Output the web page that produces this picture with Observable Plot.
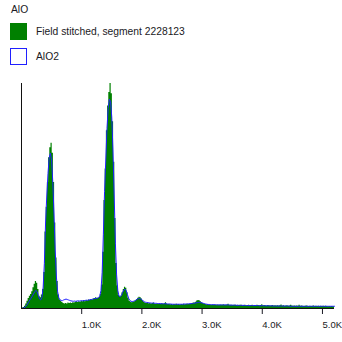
<!DOCTYPE html>
<html>
<head>
<meta charset="utf-8">
<script src="https://cdn.jsdelivr.net/npm/d3@7"></script>
<script src="https://cdn.jsdelivr.net/npm/@observablehq/plot@0.6"></script>
<style>
  html, body { margin: 0; padding: 0; background: #fff; }
  body { width: 342px; height: 342px; overflow: hidden; font-family: "Liberation Sans", Arial, sans-serif; color: #1a1a24; }
  #legend { position: relative; height: 70px; font-size: 10.3px; }
  #legend .t { position: absolute; left: 11px; top: 4px; }
  #legend .sw { position: absolute; left: 10px; width: 17px; height: 17px; box-sizing: border-box; }
  #legend .lab { position: absolute; left: 36px; }
</style>
</head>
<body>
<div id="legend"></div>
<div id="chart"></div>
<script>
const title = "AlO";
const seriesNames = ["Field stitched, segment 2228123", "AlO2"];
const seriesColors = ["#008000", "#2020ff"];
const xTicks = [1, 2, 3, 4, 5];
const energyStep = 0.02; // keV per channel
// Field stitched, segment 2228123 (counts per channel, 0.00 .. 5.20 keV)
const fieldCounts = [
  0, 2, 5, 10, 20, 32, 45, 55, 62, 75,
  92, 108, 120, 112, 85, 55, 48, 60, 85, 160,
  340, 450, 560, 670, 715, 735, 690, 560, 380, 225,
  120, 60, 38, 32, 27, 22, 20, 22, 20, 24,
  22, 25, 22, 26, 24, 28, 30, 27, 30, 28,
  32, 30, 34, 30, 36, 33, 38, 36, 40, 38,
  42, 45, 48, 44, 46, 50, 62, 105, 250, 480,
  620, 790, 900, 960, 1000, 955, 830, 650, 400, 200,
  100, 58, 52, 56, 70, 85, 94, 90, 70, 46,
  32, 28, 26, 28, 30, 34, 40, 46, 50, 48,
  42, 34, 28, 24, 22, 24, 21, 22, 20, 22,
  24, 20, 18, 21, 19, 20, 18, 22, 19, 21,
  26, 20, 18, 19, 17, 18, 16, 18, 17, 19,
  17, 18, 16, 18, 17, 19, 17, 18, 20, 18,
  19, 20, 22, 25, 24, 28, 33, 36, 34, 30,
  26, 22, 20, 18, 17, 18, 16, 17, 15, 16,
  15, 16, 14, 16, 15, 14, 16, 15, 17, 15,
  14, 16, 19, 15, 14, 15, 13, 14, 15, 13,
  14, 13, 15, 14, 12, 13, 14, 12, 13, 14,
  12, 13, 15, 12, 13, 12, 14, 13, 12, 13,
  17, 12, 13, 12, 11, 13, 12, 11, 12, 13,
  11, 12, 11, 12, 11, 12, 16, 11, 12, 10,
  11, 12, 10, 11, 15, 11, 10, 11, 10, 11,
  10, 14, 10, 11, 10, 9, 10, 11, 10, 9,
  10, 9, 10, 11, 9, 10, 9, 10, 9, 10,
  9, 10, 9, 10, 9, 8, 9, 8, 9, 8,
  8
];
// AlO2 reference spectrum (counts per channel, 0.00 .. 5.20 keV)
const alo2Counts = [
  0, 1, 3, 6, 12, 20, 30, 38, 46, 55,
  65, 75, 80, 75, 58, 42, 38, 50, 95, 200,
  380, 500, 600, 670, 690, 660, 560, 420, 260, 140,
  75, 48, 38, 36, 35, 38, 40, 42, 40, 38,
  36, 34, 33, 32, 33, 32, 33, 34, 33, 34,
  35, 34, 35, 36, 37, 36, 38, 39, 40, 41,
  43, 44, 45, 46, 48, 55, 80, 160, 330, 520,
  660, 800, 890, 930, 920, 850, 700, 500, 290, 150,
  80, 55, 52, 58, 72, 82, 86, 80, 62, 45,
  36, 32, 31, 32, 34, 37, 41, 44, 45, 43,
  39, 34, 30, 28, 27, 26, 25, 25, 24, 24,
  24, 23, 23, 22, 22, 22, 21, 21, 21, 21,
  21, 20, 20, 20, 20, 19, 19, 19, 19, 19,
  19, 19, 19, 19, 19, 20, 20, 20, 20, 21,
  21, 22, 22, 23, 24, 25, 26, 27, 27, 26,
  25, 23, 22, 20, 19, 18, 18, 17, 17, 17,
  17, 17, 16, 16, 16, 16, 16, 16, 16, 16,
  16, 16, 16, 15, 15, 15, 15, 15, 15, 14,
  14, 14, 14, 14, 14, 14, 13, 13, 13, 13,
  13, 13, 13, 13, 13, 13, 13, 13, 12, 12,
  13, 12, 12, 12, 12, 12, 12, 12, 12, 11,
  11, 11, 11, 11, 11, 11, 11, 11, 11, 11,
  11, 11, 11, 10, 10, 10, 10, 10, 10, 10,
  10, 10, 10, 10, 10, 10, 10, 10, 10, 10,
  10, 10, 10, 10, 10, 10, 10, 10, 10, 10,
  10, 10, 10, 10, 10, 10, 10, 10, 10, 10,
  10
];

const field = fieldCounts.map((c, i) => ({e: +(i * energyStep).toFixed(2), c}));
const alo2 = alo2Counts.map((c, i) => ({e: +(i * energyStep).toFixed(2), c}));

// legend
const lg = document.getElementById("legend");
lg.innerHTML = `<div class="t">${title}</div>
  <div class="sw" style="top:23px;background:${seriesColors[0]}"></div>
  <div class="lab" style="top:26px">${seriesNames[0]}</div>
  <div class="sw" style="top:48px;border:1.5px solid ${seriesColors[1]}"></div>
  <div class="lab" style="top:51px">${seriesNames[1]}</div>`;

const chart = Plot.plot({
  width: 342,
  height: 272,
  marginTop: 13,
  marginLeft: 21,
  marginRight: 8,
  marginBottom: 34,
  style: {fontFamily: "Liberation Sans, Arial, sans-serif", fontSize: "10px", color: "#1a1a24", background: "#fff"},
  x: {domain: [0, 5.2], ticks: xTicks, tickFormat: () => "", tickSize: 6, label: null},
  y: {domain: [0, 1000], axis: null},
  marks: [
    Plot.areaY(field, {x: "e", y: "c", fill: seriesColors[0], curve: "step"}),
    Plot.lineY(alo2, {x: "e", y: "c", stroke: seriesColors[1], strokeWidth: 1}),
    Plot.ruleY([0], {stroke: "#111"}),
    Plot.ruleX([0], {stroke: "#111"}),
    Plot.text(xTicks, {x: d => d, frameAnchor: "bottom", dy: 19, dx: 0, textAnchor: "start", text: d => d.toFixed(1) + "K", fill: "#1a1a24", fontSize: 9.5})
  ]
});
document.getElementById("chart").appendChild(chart);
</script>
</body>
</html>
